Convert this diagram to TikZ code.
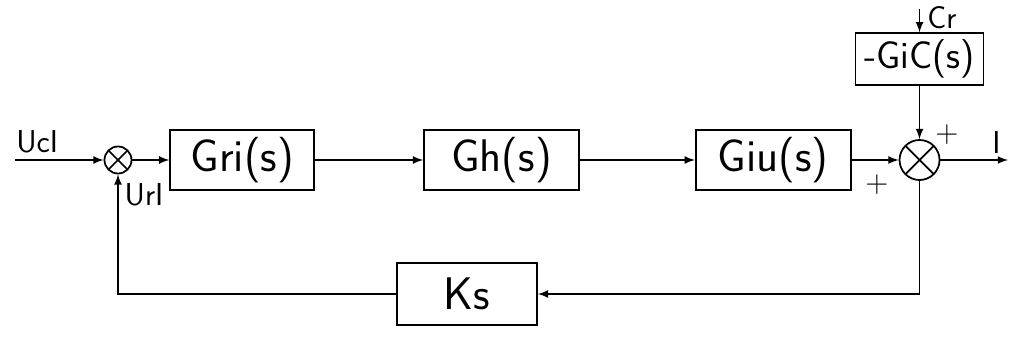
\documentclass[tikz,border=0pt]{standalone}
\usetikzlibrary{shapes,arrows,positioning}
\tikzstyle{blk}=[rectangle,draw,line width=1pt,minimum height=1.2cm,inner sep=2pt,font=\sffamily\fontsize{26}{28}\selectfont]
\tikzstyle{sumnode}=[circle,draw,line width=1pt,minimum size=0.54cm,inner sep=0pt,path picture={\draw[line width=1pt] (path picture bounding box.north west) -- (path picture bounding box.south east) (path picture bounding box.south west) -- (path picture bounding box.north east);}]
\tikzstyle{lbl}=[font=\sffamily\fontsize{18}{20}\selectfont]
\tikzstyle{arr}=[-latex,line width=1pt]

\begin{document}
\begin{tikzpicture}[node distance=1cm]
\useasboundingbox (0,0) rectangle (20.26,-6.76);
\node (sum1) [sumnode] at (2.36,-3.2) {};
\node (gri) [blk, minimum width=2.88cm, right=0.74cm of sum1] {Gri(s)};
\node (gh) [blk, minimum width=3.1cm, right=2.16cm of gri] {Gh(s)};
\node (giu) [blk, minimum width=3.1cm, right=2.3cm of gh] {Giu(s)};
\node (sum2) [sumnode, minimum size=0.8cm, right=0.94cm of giu] {};
\node (gic) [blk, minimum width=2.56cm, minimum height=1.04cm, font=\sffamily\fontsize{22}{24}\selectfont, above=1.06cm of sum2] {-GiC(s)};
\node (ks) [blk, minimum width=2.8cm, minimum height=1.24cm] at (9.34,-5.88) {Ks};
\coordinate (in) at (0.3,-3.2);
\coordinate (out) at (20.16,-3.2);
\coordinate [above=0.46cm of gic] (cr);
\draw [arr] (in) -- node [lbl, above, pos=0.25] {UcI} (sum1);
\draw [arr] (sum1) -- (gri);
\draw [arr] (gri) -- (gh);
\draw [arr] (gh) -- (giu);
\draw [arr] (giu) -- (sum2);
\draw [arr] (sum2) -- node [lbl, above, pos=0.83] {I} (out);
\draw [arr] (cr) node [lbl, anchor=north west, inner sep=1pt, xshift=3pt, yshift=3pt] {Cr} -- (gic);
\draw [arr] (gic) -- (sum2);
\draw [arr] (sum2) |- (ks);
\draw [arr] (ks) -| node [lbl, pos=0.915, right] {UrI} (sum1);
\node (plus1) [lbl] at (18.94,-2.7) {+};
\node (plus2) [lbl] at (17.54,-3.7) {+};
\end{tikzpicture}
\end{document}
